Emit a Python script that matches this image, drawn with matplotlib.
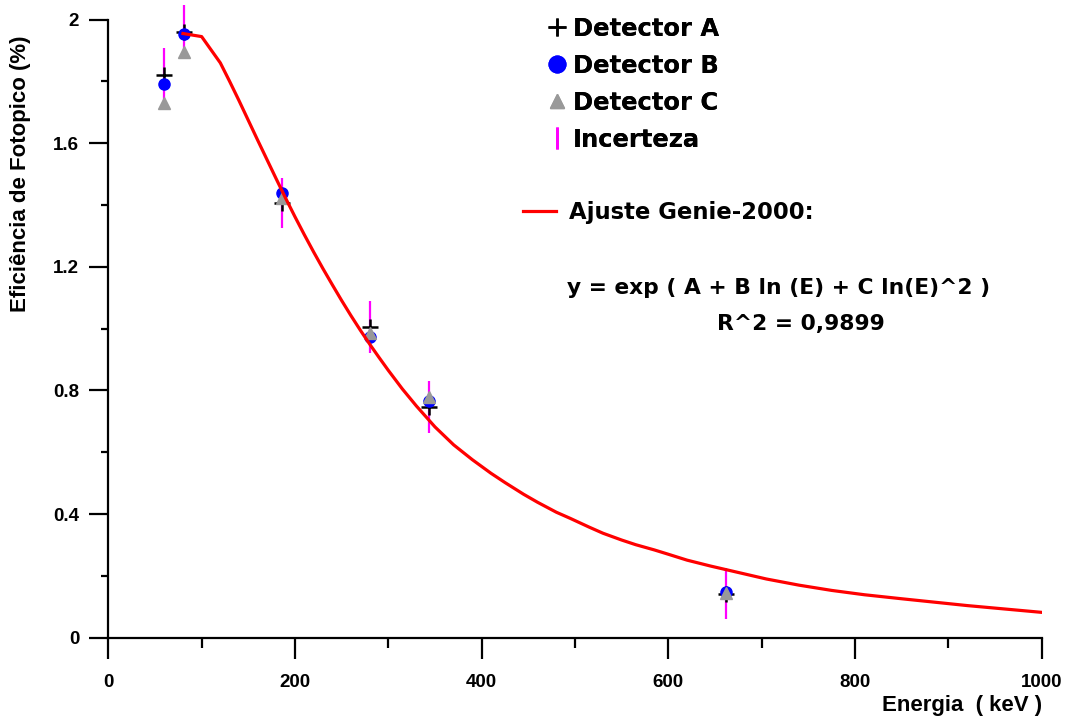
import matplotlib
matplotlib.use("Agg")
import matplotlib.pyplot as plt
from matplotlib.lines import Line2D
from matplotlib.ticker import MultipleLocator, FormatStrFormatter

# energies of the calibration peaks (keV)
energy = [59.5, 81, 186, 280, 344, 662]
det_a = [1.822, 1.961, 1.407, 1.005, 0.746, 0.143]
det_b = [1.793, 1.955, 1.439, 0.972, 0.765, 0.148]
det_c = [1.731, 1.896, 1.423, 0.985, 0.778, 0.146]
incerteza = [0.085, 0.087, 0.082, 0.083, 0.083, 0.081]

# Genie-2000 fit
fit_e = [80, 100, 120, 130, 140, 150, 160, 170, 180, 190, 200, 210, 220,
         230, 240, 250, 260, 270, 280, 290, 300, 315, 330, 350, 370, 390,
         410, 425, 445, 460, 480, 495, 515, 530, 550, 565, 585, 600, 620,
         645, 675, 705, 740, 775, 810, 850, 885, 920, 960, 1000]
fit_eff = [1.955, 1.945, 1.86, 1.80, 1.738, 1.674, 1.61, 1.547, 1.484, 1.422,
           1.362, 1.304, 1.248, 1.194, 1.142, 1.091, 1.042, 0.995, 0.95,
           0.907, 0.865, 0.805, 0.75, 0.682, 0.624, 0.576, 0.532, 0.502,
           0.464, 0.438, 0.406, 0.386, 0.358, 0.338, 0.316, 0.301, 0.284,
           0.27, 0.251, 0.232, 0.211, 0.19, 0.17, 0.153, 0.139, 0.126, 0.115,
           0.104, 0.093, 0.082]

W, H = 1067, 717
fig = plt.figure(figsize=(W / 100, H / 100), dpi=100)
ax = fig.add_axes([108.3 / W, 1 - 637.7 / H, (1041.7 - 108.3) / W, (637.7 - 19.6) / H])

tick_font = {"family": "Liberation Sans", "weight": "bold", "size": 13.5}
leg_font = {"family": "DejaVu Sans", "weight": "bold", "size": 17.5}
fit_font = {"family": "DejaVu Sans", "weight": "bold", "size": 16.4}
eq_font = {"family": "DejaVu Sans", "weight": "bold", "size": 15.7}

ax.errorbar(energy, det_a, yerr=incerteza, fmt="none", ecolor="#ff00ff",
            elinewidth=1.6, capsize=0, clip_on=False, zorder=2)
ax.plot(energy, det_a, linestyle="none", marker="+", color="black",
        markersize=12, markeredgewidth=1.8, zorder=3, clip_on=False)
ax.plot(energy, det_b, linestyle="none", marker="o", color="#0000ff",
        markersize=8, zorder=4, clip_on=False)
ax.plot(energy, det_c, linestyle="none", marker="^", color="#999999",
        markersize=9, zorder=5, clip_on=False)
ax.plot(fit_e, fit_eff, color="#ff0000", linewidth=2.3, zorder=6)

ax.set_xlim(0, 1000)
ax.set_ylim(0, 2)
for s in ["top", "right"]:
    ax.spines[s].set_visible(False)
for s in ["left", "bottom"]:
    ax.spines[s].set_linewidth(1.6)

ax.xaxis.set_major_locator(MultipleLocator(200))
ax.xaxis.set_minor_locator(MultipleLocator(100))
ax.yaxis.set_major_locator(MultipleLocator(0.4))
ax.yaxis.set_minor_locator(MultipleLocator(0.2))
ax.yaxis.set_major_formatter(FormatStrFormatter("%g"))
ax.tick_params(axis="x", which="major", direction="out", length=15, width=1.6, pad=11)
ax.tick_params(axis="x", which="minor", direction="out", length=7, width=1.6)
ax.tick_params(axis="y", which="major", direction="out", length=14, width=1.6, pad=7)
ax.tick_params(axis="y", which="minor", direction="out", length=5, width=1.6)
for lab in ax.get_xticklabels() + ax.get_yticklabels():
    lab.set_fontproperties(tick_font)

fig.text(1042 / W, 1 - 705 / H, "Energia  ( keV )", ha="right", va="center",
         family="Liberation Sans", weight="bold", size=16)
fig.text(21 / W, 1 - 174 / H, "Eficiência de Fotopico (%)", rotation=90,
         ha="center", va="center", family="Liberation Sans", weight="bold", size=16)

handles = [
    Line2D([], [], linestyle="none", marker="+", color="black", markersize=13, markeredgewidth=1.8),
    Line2D([], [], linestyle="none", marker="o", color="#0000ff", markersize=12),
    Line2D([], [], linestyle="none", marker="^", color="#999999", markersize=10),
    Line2D([], [], linestyle="none", marker="|", color="#ff00ff", markersize=16, markeredgewidth=2),
]
leg1 = fig.legend(handles, ["Detector A", "Detector B", "Detector C", "Incerteza"],
                  loc="upper left", bbox_to_anchor=(545 / W, 1 - 17 / H),
                  frameon=False, prop=leg_font, borderpad=0, borderaxespad=0,
                  handlelength=1.0, handletextpad=0.16, labelspacing=0.53)
fig.add_artist(leg1)
fig.legend([Line2D([], [], color="#ff0000", linewidth=2.3)], ["Ajuste Genie-2000:"],
           loc="upper left", bbox_to_anchor=(523 / W, 1 - 201 / H),
           frameon=False, prop=fit_font, borderpad=0, borderaxespad=0,
           handlelength=1.45, handletextpad=0.55)

fig.text(567 / W, 1 - 288 / H, "y = exp ( A + B ln (E) + C ln(E)^2 )",
         ha="left", va="center", **eq_font)
fig.text(717 / W, 1 - 324 / H, "R^2 = 0,9899", ha="left", va="center", **eq_font)

fig.savefig("out.png", dpi=100)
